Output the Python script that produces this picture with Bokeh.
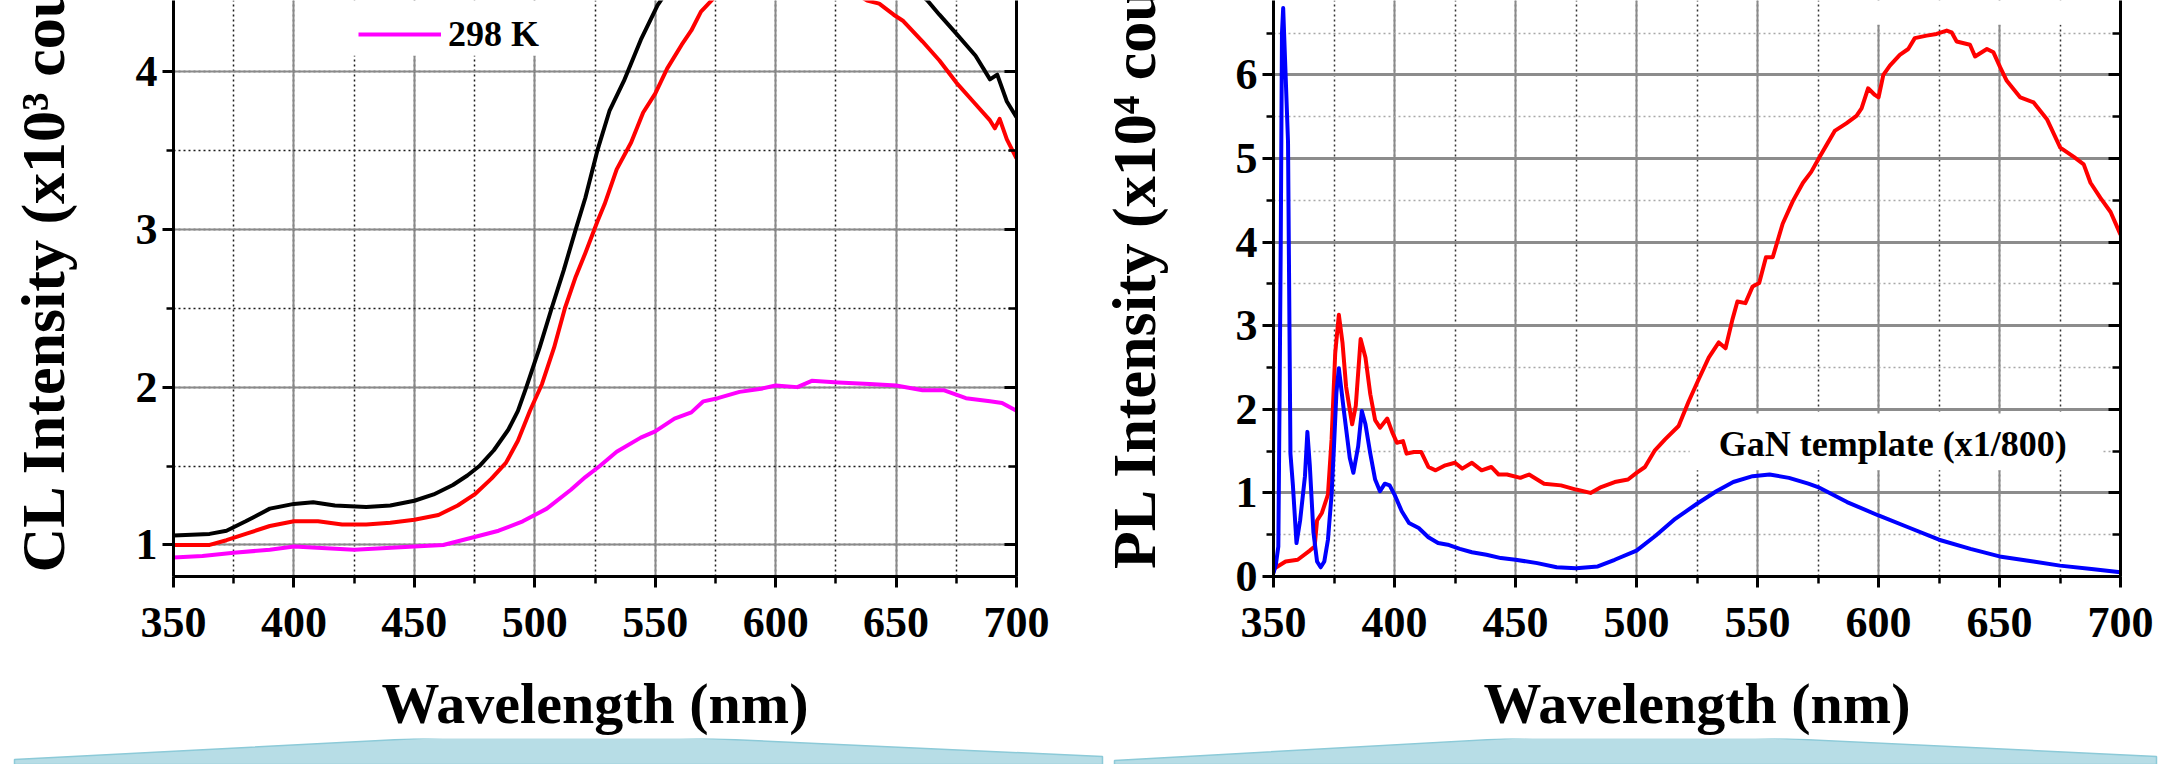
from bokeh.plotting import figure
from bokeh.models import (Range1d, SingleIntervalTicker, LinearAxis, Label, Legend,
                          LegendItem, BoxAnnotation)
from bokeh.layouts import row, column
from bokeh.embed import file_html
from bokeh.resources import INLINE

# ---------------- data ----------------
x_ticks_interval = 50
cl_y_label = "CL Intensity (x10\u00b3 counts)"
pl_y_label = "PL Intensity (x10\u2074 counts)"
x_label = "Wavelength (nm)"
legend_label = "298 K"
pl_note = "GaN template (x1/800)"

cl_black_wl = [350, 365, 372, 380, 390, 400, 408, 417, 430, 440, 450, 458, 466, 472, 477, 483,
               489, 493, 496.5, 502, 507, 512, 517, 521, 526, 531, 537, 544, 551, 558, 570, 585,
               600, 615, 630, 645, 657, 663, 668, 675, 683, 689, 692, 696, 700]
cl_black = [1.06, 1.07, 1.09, 1.15, 1.23, 1.26, 1.27, 1.25, 1.24, 1.25, 1.28, 1.32, 1.38, 1.44,
            1.50, 1.60, 1.73, 1.85, 2.00, 2.25, 2.50, 2.74, 3.00, 3.20, 3.50, 3.75, 3.94, 4.20,
            4.42, 4.58, 4.76, 4.88, 4.94, 4.93, 4.84, 4.68, 4.53, 4.45, 4.36, 4.24, 4.10, 3.95,
            3.98, 3.81, 3.71]

cl_red_wl = [350, 365, 372, 380, 390, 400, 410, 420, 430, 440, 450, 460, 468, 475, 482, 488, 493,
             498, 503, 508, 512.5, 517, 521, 526, 529, 534, 540, 545, 550, 555, 561, 565, 569, 574,
             580, 592, 605, 618, 630, 638, 643, 649, 653, 661, 668, 675, 682, 689, 691, 693, 696,
             700]
cl_red = [1.00, 1.00, 1.03, 1.07, 1.12, 1.15, 1.15, 1.13, 1.13, 1.14, 1.16, 1.19, 1.25, 1.32,
          1.42, 1.52, 1.66, 1.85, 2.02, 2.25, 2.50, 2.70, 2.85, 3.05, 3.16, 3.38, 3.55, 3.74, 3.86,
          4.02, 4.17, 4.26, 4.38, 4.46, 4.55, 4.64, 4.67, 4.62, 4.52, 4.45, 4.43, 4.36, 4.32, 4.19,
          4.07, 3.93, 3.81, 3.69, 3.64, 3.70, 3.57, 3.45]

cl_mag_wl = [350, 362, 375, 390, 400, 425, 450, 462, 475, 485, 495, 505, 515, 521, 527, 534, 544,
             550, 558, 565, 570, 576, 585, 594, 600, 609, 615, 626, 639, 650, 661, 670, 679, 689,
             694, 700]
cl_mag = [0.92, 0.93, 0.95, 0.97, 0.99, 0.97, 0.99, 1.00, 1.05, 1.09, 1.15, 1.23, 1.35, 1.43, 1.50,
          1.59, 1.68, 1.72, 1.80, 1.84, 1.91, 1.93, 1.97, 1.99, 2.01, 2.00, 2.04, 2.03, 2.02, 2.01,
          1.98, 1.98, 1.93, 1.91, 1.90, 1.85]

pl_blue_wl = [350, 351, 352, 352.5, 353, 353.5, 354, 355, 356, 357, 358, 359.5, 361, 363, 364, 365,
              366.5, 368, 369.5, 371, 372.5, 374, 375, 376, 377, 379, 381.5, 383, 385, 386.5, 388,
              390, 392, 394, 396, 398, 400, 403, 406, 410, 414, 418, 422, 427, 432, 438, 444, 450,
              459, 467, 475, 484, 491, 500, 508, 516, 525, 533, 540, 548, 555, 563, 571, 575, 587,
              600, 613, 625, 638, 650, 664, 675, 688, 700]
pl_blue = [0.04, 0.15, 0.36, 2.1, 4.0, 6.5, 6.8, 6.0, 5.2, 1.47, 1.1, 0.4, 0.67, 1.2, 1.73, 1.33,
           0.53, 0.18, 0.11, 0.18, 0.44, 0.98, 1.56, 2.2, 2.49, 2.0, 1.42, 1.24, 1.56, 1.98, 1.82,
           1.47, 1.16, 1.02, 1.11, 1.09, 0.98, 0.78, 0.64, 0.58, 0.47, 0.40, 0.38, 0.33, 0.29,
           0.26, 0.22, 0.20, 0.16, 0.11, 0.10, 0.12, 0.20, 0.31, 0.49, 0.69, 0.87, 1.02, 1.13,
           1.20, 1.22, 1.18, 1.11, 1.07, 0.89, 0.73, 0.58, 0.44, 0.33, 0.24, 0.18, 0.13, 0.09, 0.05]

pl_red_wl = [350, 355, 360, 365, 367, 368, 370, 372.5, 374, 375.5, 377, 378.5, 380, 382.5, 384,
             386, 388, 390, 392, 394, 397, 399, 401, 403.5, 405, 408, 411, 414, 417, 421, 425, 428,
             432, 436, 440, 443, 446.5, 452, 455.6, 461.8, 468.8, 475, 481, 485.4, 491, 496.5,
             500, 503.5, 507.6, 511.8, 517.4, 521.5, 525.7, 529.9, 534, 536.8, 539.6, 541.7, 545,
             548, 550.7, 553.5, 556.3, 560.4, 564.6, 568.8, 572.2, 575.7, 578.5, 581.9, 586.7,
             590.9, 593, 595.7, 598.5, 600, 602, 604.7, 608.8, 612.3, 615, 619.9, 624, 628.2,
             630.2, 632.3, 637.8, 639.9, 644.8, 647.5, 650.3, 653, 658.6, 664.1, 669.6, 675.1,
             680.7, 684.8, 687.6, 691.7, 695.9, 700]
pl_red = [0.09, 0.18, 0.20, 0.31, 0.36, 0.67, 0.76, 0.98, 1.64, 2.67, 3.13, 2.80, 2.27, 1.82, 2.04,
          2.84, 2.62, 2.18, 1.87, 1.78, 1.89, 1.73, 1.60, 1.62, 1.47, 1.49, 1.49, 1.31, 1.27, 1.33,
          1.36, 1.29, 1.36, 1.27, 1.31, 1.22, 1.22, 1.18, 1.22, 1.11, 1.09, 1.04, 1.00, 1.07, 1.13,
          1.16, 1.24, 1.31, 1.51, 1.64, 1.80, 2.09, 2.36, 2.62, 2.80, 2.73, 3.07, 3.29, 3.27, 3.47,
          3.51, 3.82, 3.82, 4.22, 4.49, 4.71, 4.84, 5.02, 5.16, 5.33, 5.42, 5.51, 5.60, 5.84, 5.76,
          5.73, 6.00, 6.11, 6.24, 6.31, 6.44, 6.47, 6.49, 6.53, 6.51, 6.40, 6.36, 6.22, 6.31, 6.27,
          6.09, 5.93, 5.73, 5.67, 5.47, 5.13, 5.02, 4.93, 4.71, 4.53, 4.36, 4.09]

# decorative slide shapes under the charts (pixel space of the bottom strip)
banner_left_x = [14, 14, 553, 1102, 1102]
banner_left_y = [764, 759, 731, 756, 764]
banner_right_x = [1114, 1114, 1635, 2156, 2156]
banner_right_y = [764, 760, 731, 756, 764]

# ---------------- styling ----------------
FONT = "Liberation Serif"
W, H_TOP = 1084, 738
H_BOT = 764 - H_TOP
FRAME_H = 582
# the y titles start a little above the frame bottom and run past the top edge
LEAD = "\u00a0" * 8


def style_fig(p, y_int, ylab, ylab_standoff):
    p.outline_line_color = None
    xt = SingleIntervalTicker(interval=x_ticks_interval, num_minor_ticks=2)
    yt = SingleIntervalTicker(interval=y_int, num_minor_ticks=2)
    p.xaxis.ticker = xt
    p.yaxis.ticker = yt
    p.xgrid.ticker = xt
    p.ygrid.ticker = yt
    for ax in (p.xaxis[0], p.yaxis[0]):
        ax.axis_line_width = 3
        ax.axis_line_color = "black"
        ax.major_tick_line_width = 3
        ax.minor_tick_line_width = 2.5
        ax.major_tick_out = 11
        ax.major_tick_in = 0
        ax.minor_tick_out = 7
        ax.minor_tick_in = 0
        ax.major_label_text_font = FONT
        ax.major_label_text_font_style = "bold"
        ax.major_label_text_font_size = "44px"
        ax.major_label_text_color = "black"
        ax.axis_label_text_font = FONT
        ax.axis_label_text_font_style = "bold"
        ax.axis_label_text_color = "black"
    p.xaxis.major_label_standoff = 20
    p.yaxis.major_label_standoff = 5
    p.xaxis.axis_label = x_label
    p.xaxis.axis_label_text_font_size = "58px"
    p.xaxis.axis_label_standoff = 31
    p.yaxis.axis_label = LEAD + ylab
    p.yaxis.axis_label_text_font_size = "62px"
    p.yaxis.axis_label_standoff = ylab_standoff
    ra = LinearAxis(ticker=SingleIntervalTicker(interval=y_int, num_minor_ticks=2),
                    major_label_text_color=None, axis_line_width=3,
                    major_tick_in=12, major_tick_out=0, minor_tick_in=8, minor_tick_out=0,
                    major_tick_line_width=3, minor_tick_line_width=2.5)
    p.add_layout(ra, "right")


def make_fig(yr, min_left, min_right):
    return figure(width=W, height=H_TOP, x_range=Range1d(350, 700), y_range=Range1d(*yr),
                  output_backend="svg", toolbar_location=None,
                  min_border_left=min_left, min_border_right=min_right,
                  min_border_top=0, min_border_bottom=H_TOP - FRAME_H,
                  background_fill_color="white", border_fill_color="white")


# ---------------- left: CL ----------------
yr1 = (0.8, 4.45)
p1 = make_fig(yr1, 173, 68)
style_fig(p1, 1, cl_y_label, 56)
p1.xgrid.grid_line_color = "#8a8a8a"
p1.xgrid.grid_line_width = 2
p1.ygrid.grid_line_color = "#8a8a8a"
p1.ygrid.grid_line_width = 2
for g in (p1.xgrid[0], p1.ygrid[0]):
    g.minor_grid_line_color = "#1a1a1a"
    g.minor_grid_line_dash = "2 3"
    g.minor_grid_line_width = 1.5

p1.add_layout(BoxAnnotation(left=419, right=520, bottom=4.10, top=4.45, fill_color="white",
                            fill_alpha=1, line_color=None, level="underlay"))

p1.line(cl_black_wl, cl_black, line_color="black", line_width=4, line_join="round")
p1.line(cl_red_wl, cl_red, line_color="#ff0000", line_width=4, line_join="round")
r_mag = p1.line(cl_mag_wl, cl_mag, line_color="#ff00ff", line_width=4, line_join="round")

leg = Legend(items=[LegendItem(label=legend_label, renderers=[r_mag])],
             location=(185, FRAME_H - 61), glyph_width=83, glyph_height=40, label_height=40,
             label_width=80, label_standoff=7, padding=4, spacing=0, margin=0,
             background_fill_color="white", background_fill_alpha=1, border_line_color=None,
             label_text_font=FONT, label_text_font_style="bold", label_text_font_size="36px",
             label_text_color="black")
p1.add_layout(leg)

# ---------------- right: PL ----------------
yr2 = (0.0, 6.89)
p2 = make_fig(yr2, 189, 48)
style_fig(p2, 1, pl_y_label, 65)
p2.xgrid.grid_line_color = "#8a8a8a"
p2.xgrid.grid_line_width = 2
p2.xgrid.minor_grid_line_color = "#333333"
p2.xgrid.minor_grid_line_dash = "2 3"
p2.xgrid.minor_grid_line_width = 1.5
p2.ygrid.grid_line_color = "#8c8c8c"
p2.ygrid.grid_line_width = 3
p2.ygrid.minor_grid_line_color = "#a8a8a8"
p2.ygrid.minor_grid_line_dash = "2 3"
p2.ygrid.minor_grid_line_width = 1.5

p2.add_layout(BoxAnnotation(left=522, right=692, bottom=1.27, top=1.95, fill_color="white",
                            fill_alpha=1, line_color=None, level="underlay"))
p2.add_layout(BoxAnnotation(left=588, right=700, bottom=6.6, top=6.89, fill_color="white",
                            fill_alpha=1, line_color=None, level="underlay"))

p2.line(pl_red_wl, pl_red, line_color="#ff0000", line_width=4, line_join="round")
p2.line(pl_blue_wl, pl_blue, line_color="#0000ff", line_width=4, line_join="round")

p2.add_layout(Label(x=534, y=1.58, text=pl_note, text_font=FONT, text_font_style="bold",
                    text_font_size="36px", text_color="black", text_align="left",
                    text_baseline="middle"))

# ---------------- bottom decorative strip ----------------
p3 = figure(width=2 * W, height=H_BOT, x_range=Range1d(0, 2 * W), y_range=Range1d(764, H_TOP),
            output_backend="svg", toolbar_location=None, x_axis_type=None, y_axis_type=None,
            min_border=0, background_fill_color="white", border_fill_color="white")
p3.outline_line_color = None
p3.grid.visible = False
p3.patch(banner_left_x, banner_left_y, fill_color="#b7dde6", line_color="#8ccad8", line_width=1.5)
p3.patch(banner_right_x, banner_right_y, fill_color="#b7dde6", line_color="#8ccad8", line_width=1.5)

layout = column(row(p1, p2, spacing=0), p3, spacing=0)
open("out.html", "w").write(file_html(layout, INLINE))
